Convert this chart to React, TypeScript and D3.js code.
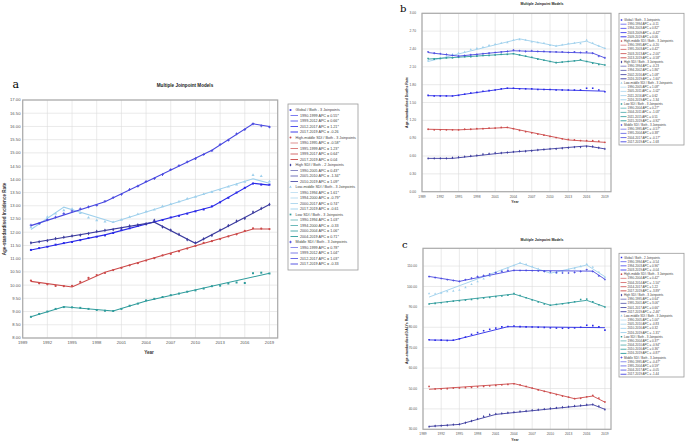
import React from "react";
import * as d3 from "d3";

// ---------- data ----------
const years = [1990,1991,1992,1993,1994,1995,1996,1997,1998,1999,2000,2001,2002,2003,2004,2005,2006,2007,2008,2009,2010,2011,2012,2013,2014,2015,2016,2017,2018,2019];
const tickYears = [1989,1992,1995,1998,2001,2004,2007,2010,2013,2016,2019];

// Panel a: incidence
const incGlobalObs = [11.33,11.40,11.45,11.53,11.59,11.63,11.70,11.78,11.83,11.88,11.97,12.08,12.15,12.24,12.32,12.40,12.46,12.56,12.62,12.70,12.79,12.86,12.98,13.13,13.30,13.50,13.68,13.84,13.80,13.80];
const incGlobalJp = [[1990,11.33],[1999,11.9],[2012,12.96],[2017,13.85],[2019,13.78]];
const incHighMidObs = [10.17,10.07,10.03,9.97,9.96,9.97,10.12,10.27,10.38,10.46,10.57,10.65,10.75,10.83,10.93,11.02,11.12,11.18,11.28,11.38,11.48,11.60,11.66,11.74,11.84,11.92,12.05,12.15,12.14,12.12];
const incHighMidJp = [[1990,10.14],[1995,9.93],[1999,10.49],[2017,12.12],[2019,12.12]];
const incHighObs = [11.60,11.64,11.68,11.76,11.81,11.86,11.89,11.95,12.03,12.07,12.10,12.16,12.24,12.28,12.31,12.45,12.20,12.08,11.92,11.72,11.60,11.75,11.88,12.08,12.25,12.42,12.52,12.76,12.90,13.05];
const incHighJp = [[1990,11.59],[2005,12.38],[2010,11.58],[2019,13.05]];
const incLowMidObs = [12.18,12.32,12.58,12.70,12.83,12.88,12.72,12.55,12.45,12.40,12.38,12.47,12.58,12.68,12.78,12.85,12.98,13.06,13.16,13.27,13.34,13.44,13.52,13.60,13.72,13.80,13.90,14.16,14.12,13.92];
const incLowMidJp = [[1990,12.1],[1994,12.95],[2000,12.38],[2017,14.02],[2019,13.85]];
const incLowObs = [8.80,8.91,9.00,9.10,9.17,9.16,9.14,9.10,9.06,9.03,9.02,9.10,9.22,9.30,9.42,9.48,9.55,9.62,9.68,9.75,9.80,9.87,9.96,9.98,10.06,10.10,10.08,10.45,10.47,10.44];
const incLowJp = [[1990,8.8],[1994,9.18],[2000,9.02],[2004,9.4],[2019,10.45]];
const incMidObs = [12.27,12.33,12.47,12.57,12.70,12.80,12.88,12.96,13.02,13.17,13.31,13.43,13.62,13.74,13.92,14.03,14.18,14.37,14.52,14.66,14.78,14.94,15.08,15.32,15.48,15.72,15.88,16.10,16.02,15.98];
const incMidJp = [[1990,12.25],[1999,13.15],[2012,15.1],[2017,16.1],[2019,16.0]];

// Panel b: deaths
const dthGlobalObs = [1.62,1.61,1.61,1.61,1.61,1.62,1.64,1.66,1.67,1.69,1.70,1.71,1.73,1.74,1.74,1.73,1.73,1.73,1.72,1.72,1.72,1.71,1.71,1.71,1.71,1.71,1.74,1.74,1.71,1.68];
const dthGlobalJp = [[1990,1.615],[1994,1.61],[2003,1.74],[2009,1.72],[2019,1.69]];
const dthHighMidObs = [1.05,1.04,1.04,1.04,1.04,1.04,1.05,1.05,1.06,1.06,1.07,1.07,1.08,1.08,1.06,1.03,1.01,0.99,0.97,0.95,0.93,0.91,0.89,0.88,0.87,0.86,0.86,0.86,0.85,0.83];
const dthHighMidJp = [[1990,1.05],[1995,1.04],[2003,1.08],[2013,0.87],[2019,0.83]];
const dthHighObs = [0.56,0.56,0.56,0.56,0.57,0.58,0.59,0.60,0.61,0.63,0.64,0.65,0.65,0.66,0.67,0.68,0.68,0.69,0.70,0.71,0.72,0.72,0.73,0.74,0.75,0.75,0.76,0.76,0.74,0.72];
const dthHighJp = [[1990,0.56],[1994,0.56],[2002,0.65],[2016,0.77],[2019,0.72]];
const dthLowMidObs = [2.20,2.23,2.24,2.26,2.31,2.33,2.35,2.39,2.41,2.43,2.46,2.48,2.50,2.51,2.55,2.56,2.55,2.52,2.51,2.50,2.46,2.45,2.47,2.49,2.50,2.49,2.55,2.50,2.45,2.41];
const dthLowMidJp = [[1990,2.19],[2005,2.57],[2011,2.45],[2016,2.53],[2019,2.41]];
const dthLowObs = [2.24,2.23,2.24,2.25,2.25,2.26,2.27,2.27,2.28,2.29,2.29,2.30,2.31,2.31,2.32,2.30,2.28,2.26,2.23,2.21,2.19,2.17,2.18,2.19,2.20,2.22,2.19,2.16,2.14,2.13];
const dthLowJp = [[1990,2.23],[2004,2.32],[2011,2.17],[2015,2.21],[2019,2.13]];
const dthMidObs = [2.35,2.33,2.32,2.31,2.29,2.28,2.29,2.30,2.31,2.32,2.33,2.34,2.35,2.36,2.38,2.37,2.36,2.37,2.36,2.36,2.35,2.35,2.35,2.34,2.35,2.34,2.35,2.33,2.28,2.25];
const dthMidJp = [[1990,2.34],[1995,2.28],[2004,2.37],[2017,2.33],[2019,2.25]];

// Panel c: DALYs
const dalyGlobalObs = [73.9,73.6,73.7,73.5,73.7,74.3,75.2,76.5,77.4,78.3,79.0,79.6,80.2,80.4,80.6,80.3,80.2,80.1,80.0,79.9,79.7,79.6,79.5,79.6,79.7,80.0,81.0,80.8,80.2,78.6];
const dalyGlobalJp = [[1990,73.8],[1994,73.6],[2003,80.3],[2019,79.8]];
const dalyHighMidObs = [51.0,49.8,49.8,49.9,50.2,50.3,50.4,50.5,50.8,51.0,51.3,51.5,51.8,52.0,52.3,51.8,51.0,50.2,49.3,48.6,47.8,47.0,46.3,45.8,45.0,45.2,45.9,46.6,45.3,43.4];
const dalyHighMidJp = [[1990,49.6],[2004,52.4],[2014,45.0],[2017,46.3],[2019,43.3]];
const dalyHighObs = [31.3,31.6,31.8,32.0,32.3,32.5,33.2,34.1,35.1,36.3,37.2,37.5,37.8,38.1,38.4,38.7,39.0,39.3,39.6,39.9,40.2,40.5,40.8,41.1,41.4,41.7,42.0,42.2,41.3,39.7];
const dalyHighJp = [[1990,31.4],[1995,32.4],[2001,37.3],[2017,42.1],[2019,39.8]];
const dalyLowMidObs = [96.5,96.4,96.8,97.5,97.8,98.2,99.5,101.0,102.4,103.7,105.0,106.5,107.8,109.0,110.2,111.5,110.8,109.7,108.6,107.4,106.8,106.5,107.3,108.3,108.8,109.8,110.9,109.5,107.0,104.6];
const dalyLowMidJp = [[1990,94.8],[2005,111.5],[2010,106.5],[2016,110.5],[2019,104.8]];
const dalyLowObs = [91.4,91.7,92.0,92.5,92.8,93.0,93.3,93.6,94.0,94.3,94.6,95.0,95.3,95.7,96.5,95.6,94.5,93.4,92.4,91.4,90.8,91.2,91.5,91.9,92.5,93.6,93.8,92.5,91.0,89.9];
const dalyLowJp = [[1990,91.5],[2004,96.3],[2010,90.8],[2016,93.2],[2019,90.0]];
const dalyMidObs = [104.8,104.3,103.9,103.3,102.9,102.5,103.3,104.1,104.8,105.4,106.1,106.8,107.4,107.9,107.9,107.8,107.9,107.7,107.6,107.4,107.2,106.9,106.6,106.6,106.9,107.4,108.2,107.4,105.2,103.4];
const dalyMidJp = [[1990,104.9],[1995,102.5],[2004,107.9],[2017,107.5],[2019,103.5]];

// Legend texts
const legendNames = ["Global","High-middle SDI","High SDI","Low-middle SDI","Low SDI","Middle SDI"];
const legendA = [
  ["3 Joinpoints", ["1990-1999 APC = 0.55*","1999-2012 APC = 0.66*","2012-2017 APC = 1.21*","2017-2019 APC = -0.26"]],
  ["3 Joinpoints", ["1990-1995 APC = -0.58*","1995-1999 APC = 1.23*","1999-2017 APC = 0.64*","2017-2019 APC = 0.04"]],
  ["2 Joinpoints", ["1990-2005 APC = 0.43*","2005-2010 APC = -1.34*","2010-2019 APC = 1.09*"]],
  ["3 Joinpoints", ["1990-1994 APC = 1.61*","1994-2000 APC = -0.79*","2000-2017 APC = 0.74*","2017-2019 APC = -0.61"]],
  ["3 Joinpoints", ["1990-1994 APC = 1.03*","1994-2000 APC = -0.33","2000-2004 APC = 1.06*","2004-2019 APC = 0.71*"]],
  ["3 Joinpoints", ["1990-1999 APC = 0.78*","1999-2012 APC = 1.04*","2012-2017 APC = 1.03*","2017-2019 APC = -0.33"]],
];
const legendB = [
  ["3 Joinpoints", ["1990-1994 APC = -0.11","1994-2003 APC = 0.82*","2003-2009 APC = -0.42*","2009-2019 APC = 0.06"]],
  ["3 Joinpoints", ["1990-1995 APC = -0.20","1995-2003 APC = 0.42*","2003-2013 APC = -2.00*","2013-2019 APC = -0.58*"]],
  ["3 Joinpoints", ["1990-1994 APC = -0.23","1994-2002 APC = 1.86*","2002-2016 APC = 1.08*","2016-2019 APC = -1.60*"]],
  ["3 Joinpoints", ["1990-2005 APC = 1.08*","2005-2011 APC = -1.02*","2011-2016 APC = 0.62","2016-2019 APC = -1.34"]],
  ["3 Joinpoints", ["1990-2004 APC = 0.27*","2004-2011 APC = -1.03*","2011-2015 APC = 0.51","2015-2019 APC = -0.92*"]],
  ["3 Joinpoints", ["1990-1995 APC = -0.57*","1995-2004 APC = 0.38*","2004-2017 APC = -0.17*","2017-2019 APC = -1.68"]],
];
const legendC = [
  ["2 Joinpoints", ["1990-1994 APC = -0.54","1994-2003 APC = 0.96*","2003-2019 APC = -0.04"]],
  ["3 Joinpoints", ["1990-2004 APC = 0.42*","2004-2014 APC = -1.50*","2014-2017 APC = 1.22","2017-2019 APC = -3.89*"]],
  ["3 Joinpoints", ["1990-1995 APC = 0.64*","1995-2001 APC = 3.06*","2001-2017 APC = 0.66*","2017-2019 APC = -2.46*"]],
  ["3 Joinpoints", ["1990-2005 APC = 1.00*","2005-2010 APC = -0.83","2010-2016 APC = 0.32","2016-2019 APC = -1.31*"]],
  ["3 Joinpoints", ["1990-2004 APC = 0.37*","2004-2010 APC = -0.94*","2010-2016 APC = 0.36*","2016-2019 APC = -0.87*"]],
  ["3 Joinpoints", ["1990-1995 APC = -0.47*","1995-2004 APC = 0.59*","2004-2017 APC = -0.05","2017-2019 APC = -1.44"]],
];

const colors = ["#2a2ae8", "#cc4a4a", "#3b3b9e", "#9fd0ec", "#2f9c9c", "#4848e0"];
const symbols = [d3.symbolSquare, d3.symbolCircle, d3.symbolDiamond, d3.symbolTriangle, d3.symbolSquare, d3.symbolCross];

const seriesA = [
  [incGlobalObs, incGlobalJp], [incHighMidObs, incHighMidJp], [incHighObs, incHighJp],
  [incLowMidObs, incLowMidJp], [incLowObs, incLowJp], [incMidObs, incMidJp],
];
const seriesB = [
  [dthGlobalObs, dthGlobalJp], [dthHighMidObs, dthHighMidJp], [dthHighObs, dthHighJp],
  [dthLowMidObs, dthLowMidJp], [dthLowObs, dthLowJp], [dthMidObs, dthMidJp],
];
const seriesC = [
  [dalyGlobalObs, dalyGlobalJp], [dalyHighMidObs, dalyHighMidJp], [dalyHighObs, dalyHighJp],
  [dalyLowMidObs, dalyLowMidJp], [dalyLowObs, dalyLowJp], [dalyMidObs, dalyMidJp],
];

const ticksA = [8,8.5,9,9.5,10,10.5,11,11.5,12,12.5,13,13.5,14,14.5,15,15.5,16,16.5,17];
const ticksB = [0,0.3,0.6,0.9,1.2,1.5,1.8,2.1,2.4,2.7,3.0];
const ticksC = [30,40,50,60,70,80,90,100,110];

const FONT = "'Liberation Sans', Arial, sans-serif";

type PanelProps = {
  x0: number; x1: number; y0: number; y1: number;
  yDomain: [number, number]; yTicks: number[];
  series: any[]; fs: number; lw: number; ms: number;
  letter: string; letterX: number; letterY: number;
  title: string; titleX: number; titleY: number; titleFs: number;
  yTitle: string; yTitleX: number;
  xTitleX: number; xTitleY: number;
  yLabelX: number; xLabelY: number;
};

function Panel(p: PanelProps) {
  const x = d3.scaleLinear().domain([1989, 2020]).range([p.x0, p.x1]);
  const y = d3.scaleLinear().domain(p.yDomain).range([p.y1, p.y0]);
  const line = d3.line<number[]>().x((d) => x(d[0])).y((d) => y(d[1]));
  const sym = d3.symbol();
  return (
    <g>
      <text x={p.letterX} y={p.letterY} fontFamily="'DejaVu Serif', serif" fontSize={p.letter === "a" ? 11 : 10}>{p.letter}</text>
      <text x={p.titleX} y={p.titleY} textAnchor="middle" fontFamily={FONT} fontWeight="bold" fontSize={p.titleFs} fill="#222">{p.title}</text>
      <rect x={p.x0} y={p.y0} width={p.x1 - p.x0} height={p.y1 - p.y0} fill="#fff" />
      {p.yTicks.map((t) => (
        <line key={"h" + t} x1={p.x0} x2={p.x1} y1={y(t)} y2={y(t)} stroke="#dcdcdc" strokeWidth={0.6} />
      ))}
      {tickYears.map((t) => (
        <line key={"v" + t} x1={x(t)} x2={x(t)} y1={p.y0} y2={p.y1} stroke="#dcdcdc" strokeWidth={0.6} />
      ))}
      <rect x={p.x0} y={p.y0} width={p.x1 - p.x0} height={p.y1 - p.y0} fill="none" stroke="#a9a9a9" strokeWidth={1.2} />
      {p.yTicks.map((t) => (
        <text key={"yl" + t} x={p.yLabelX} y={y(t) + p.fs * 0.35} textAnchor="end" fontFamily={FONT} fontSize={p.fs} fill="#555">{t.toFixed(2)}</text>
      ))}
      {tickYears.map((t) => (
        <text key={"xl" + t} x={x(t)} y={p.xLabelY} textAnchor="middle" fontFamily={FONT} fontSize={p.fs} fill="#555">{t}</text>
      ))}
      <text transform={`translate(${p.yTitleX},${(p.y0 + p.y1) / 2}) rotate(-90)`} textAnchor="middle" fontFamily={FONT} fontWeight="bold" fontSize={p.titleFs} fill="#333">{p.yTitle}</text>
      <text x={p.xTitleX} y={p.xTitleY} textAnchor="middle" fontFamily={FONT} fontWeight="bold" fontSize={p.titleFs} fill="#333">Year</text>
      {p.series.map((s, i) => (
        <g key={"s" + i}>
          <path d={line(s[1]) || ""} fill="none" stroke={colors[i]} strokeWidth={p.lw} />
          {s[0].map((v: number, j: number) => (
            <path key={j} transform={`translate(${x(years[j])},${y(v)})`} d={sym.type(symbols[i]).size(p.ms)() || ""} fill={colors[i]} />
          ))}
        </g>
      ))}
    </g>
  );
}

type LegendProps = {
  bx0: number; by0: number; bx1: number; by1: number;
  rowY: number; rh: number; fs: number;
  mx: number; lx0: number; lx1: number; hx: number; tx: number;
  entries: any[]; ms: number;
};

function Legend(p: LegendProps) {
  const rows: any[] = [];
  let r = 0;
  const sym = d3.symbol();
  p.entries.forEach((e, i) => {
    const yy = p.rowY + r * p.rh;
    rows.push(
      <g key={"hd" + i}>
        <path transform={`translate(${p.mx},${yy})`} d={sym.type(symbols[i]).size(p.ms)() || ""} fill={colors[i]} />
        <text x={p.hx} y={yy + p.fs * 0.35} fontFamily={FONT} fontSize={p.fs} fill="#444">{`${legendNames[i]} / Both - ${e[0]}`}</text>
      </g>
    );
    r++;
    e[1].forEach((t: string, k: number) => {
      const y2 = p.rowY + r * p.rh;
      rows.push(
        <g key={"sg" + i + "-" + k}>
          <line x1={p.lx0} x2={p.lx1} y1={y2} y2={y2} stroke={colors[i]} strokeWidth={1} opacity={0.6 + 0.1 * k} />
          <text x={p.tx} y={y2 + p.fs * 0.35} fontFamily={FONT} fontSize={p.fs} fill="#444">{t}</text>
        </g>
      );
      r++;
    });
  });
  return (
    <g>
      <rect x={p.bx0} y={p.by0} width={p.bx1 - p.bx0} height={p.by1 - p.by0} fill="#fff" stroke="#9a9a9a" strokeWidth={0.8} />
      {rows}
    </g>
  );
}

export default function App() {
  return (
    <div style={{ position: "fixed", left: 0, top: 0, width: 685, height: 442, background: "#fff" }}>
      <svg width={685} height={442} viewBox="0 0 685 442">
        <rect width={685} height={442} fill="#fff" />
        <Panel x0={22.7} x1={277.7} y0={100} y1={338} yDomain={[8, 17]} yTicks={ticksA}
          series={seriesA} fs={4.2} lw={1.1} ms={4}
          letter="a" letterX={12.5} letterY={88}
          title="Multiple Joinpoint Models" titleX={185} titleY={87} titleFs={4.6}
          yTitle="Age-standardised Incidence Rate" yTitleX={5.5}
          xTitleX={149} xTitleY={354} yLabelX={20.5} xLabelY={343.5} />
        <Legend bx0={288} by0={104} bx1={358} by1={270} rowY={110} rh={5.5} fs={3.7}
          mx={290.5} lx0={290.5} lx1={298} hx={295.5} tx={300} entries={legendA} ms={3} />
        <Panel x0={422} x1={611} y0={13.3} y1={191.7} yDomain={[0, 3]} yTicks={ticksB}
          series={seriesB} fs={3.3} lw={0.9} ms={2.5}
          letter="b" letterX={400} letterY={11.5}
          title="Multiple Joinpoint Models" titleX={542} titleY={5} titleFs={3.5}
          yTitle="Age-standardised Deaths Rate" yTitleX={408}
          xTitleX={515} xTitleY={203} yLabelX={416} xLabelY={197.5} />
        <Legend bx0={619} by0={13.3} bx1={684} by1={145} rowY={20} rh={4.2} fs={3.0}
          mx={621.5} lx0={620.5} lx1={626.5} hx={624} tx={627.5} entries={legendB} ms={2.2} />
        <Panel x0={423} x1={611} y0={248.3} y1={429.3} yDomain={[30, 118.7]} yTicks={ticksC}
          series={seriesC} fs={3.3} lw={0.9} ms={2.5}
          letter="c" letterX={402} letterY={248}
          title="Multiple Joinpoint Models" titleX={542} titleY={241} titleFs={3.5}
          yTitle="Age-standardised DALYs Rate" yTitleX={408}
          xTitleX={515} xTitleY={440.5} yLabelX={417} xLabelY={434.5} />
        <Legend bx0={619} by0={253.3} bx1={684} by1={377} rowY={257.5} rh={4.17} fs={3.0}
          mx={621.5} lx0={620.5} lx1={626.5} hx={624} tx={627.5} entries={legendC} ms={2.2} />
      </svg>
    </div>
  );
}
